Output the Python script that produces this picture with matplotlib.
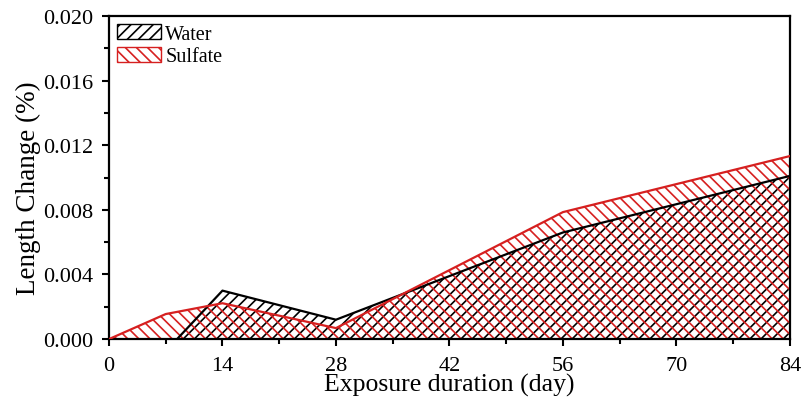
import matplotlib
matplotlib.use("Agg")
import matplotlib.pyplot as plt
from matplotlib.ticker import MultipleLocator, FormatStrFormatter
from matplotlib.patches import Patch

days = [0, 7, 14, 28, 56, 84]
water = [0.0, -0.00075, 0.0030, 0.0012, 0.0066, 0.0101]
sulfate = [0.0, 0.00155, 0.00222, 0.00068, 0.00786, 0.01133]
x_ticks = [0, 14, 28, 42, 56, 70, 84]

plt.rcParams['font.family'] = ['Liberation Serif', 'DejaVu Serif']
plt.rcParams['hatch.linewidth'] = 1.2

fig = plt.figure(figsize=(8.03, 4.02), dpi=100)
ax = fig.add_axes([0.1357, 0.154, 0.848, 0.8037])

red = '#d62020'
ax.fill_between(days, 0, water, facecolor='none', edgecolor='black', hatch='///', linewidth=0)
ax.fill_between(days, 0, sulfate, facecolor='none', edgecolor=red, hatch='\\\\\\', linewidth=0)
ax.plot(days, water, color='black', lw=1.6, zorder=3)
ax.plot(days, sulfate, color=red, lw=1.6, zorder=4)

ax.set_xlim(0, 84)
ax.set_ylim(0, 0.020)
ax.set_xticks(x_ticks)
ax.xaxis.set_minor_locator(MultipleLocator(7))
ax.yaxis.set_major_locator(MultipleLocator(0.004))
ax.yaxis.set_minor_locator(MultipleLocator(0.002))
ax.yaxis.set_major_formatter(FormatStrFormatter('%.3f'))
ax.tick_params(which='major', direction='out', length=5, width=1.5, labelsize=16, top=False, right=False)
ax.tick_params(which='minor', direction='out', length=3.5, width=1.5, top=False, right=False)
ax.tick_params(axis='x', which='major', pad=7)
ax.tick_params(axis='y', which='major', pad=6)
for s in ax.spines.values():
    s.set_linewidth(1.6)

ax.set_xlabel('Exposure duration (day)', fontsize=18.5, labelpad=-1)
ax.set_ylabel('Length Change (%)', fontsize=19.5)
ax.yaxis.set_label_coords(-0.100, 0.47)

handles = [Patch(facecolor='none', edgecolor='black', hatch='///', label='Water'),
           Patch(facecolor='none', edgecolor=red, hatch='\\\\\\', label='Sulfate')]
ax.legend(handles=handles, loc='upper left', frameon=False, fontsize=14.5,
          handlelength=2.2, handleheight=0.8, handletextpad=0.2, labelspacing=0.15,
          borderaxespad=0.2, borderpad=0.2)

fig.savefig('out.png', dpi=100)
